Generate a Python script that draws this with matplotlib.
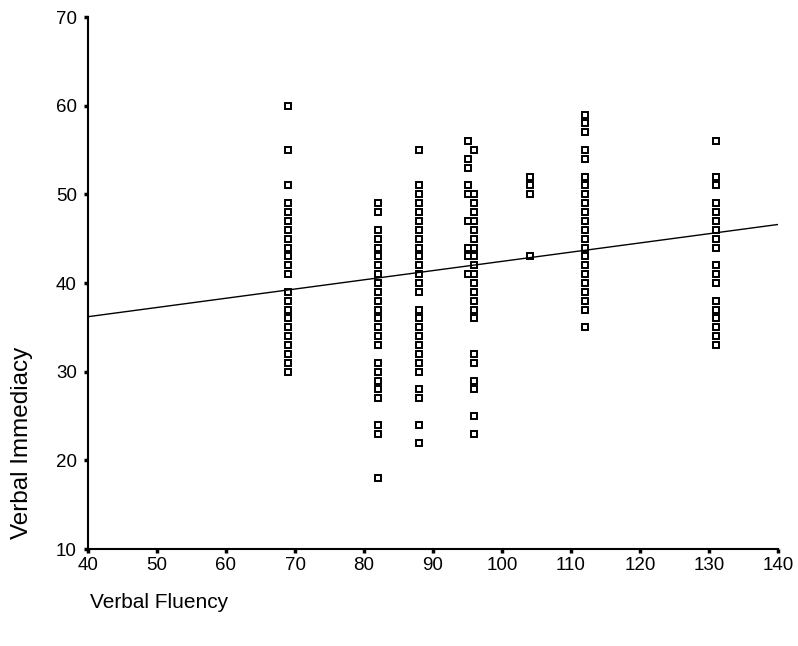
import numpy as np
import matplotlib
matplotlib.use("Agg")
import matplotlib.pyplot as plt

plt.rcParams['font.family'] = ['Liberation Sans', 'DejaVu Sans']

# Verbal Fluency groups and the Verbal Immediacy scores
fluency_levels = [69, 82, 88, 95, 96, 104, 112, 131]

immediacy_69 = [60, 55, 51, 49, 48, 47, 46, 45, 44, 43, 42, 41,
                39, 38, 37, 36, 35, 34, 33, 32, 31, 30]
immediacy_82 = [49, 48, 46, 45, 44, 43, 42, 41, 40, 39, 38, 37, 36, 35, 34, 33,
                31, 30, 29, 28, 27, 24, 23, 18]
immediacy_88 = [55, 51, 50, 49, 48, 47, 46, 45, 44, 43, 42, 41, 40, 39,
                37, 36, 35, 34, 33, 32, 31, 30, 28, 27, 24, 22]
immediacy_95 = [56, 54, 53, 51, 50, 47, 44, 43, 41]
immediacy_96 = [55, 50, 49, 48, 47, 46, 45, 44, 43, 42, 41, 40, 39, 38, 37, 36,
                32, 31, 29, 28, 25, 23]
immediacy_104 = [52, 51, 50, 43]
immediacy_112 = [59, 58, 57, 55, 54, 52, 51, 50, 49, 48, 47, 46, 45, 44, 43, 42,
                 41, 40, 39, 38, 37, 35]
immediacy_131 = [56, 52, 51, 49, 48, 47, 46, 45, 44, 42, 41, 40,
                 38, 37, 36, 35, 34, 33]

groups = [immediacy_69, immediacy_82, immediacy_88, immediacy_95,
          immediacy_96, immediacy_104, immediacy_112, immediacy_131]

# fit line end points
fit_x = [40, 140]
fit_y = [36.2, 46.6]

x_ticks = [40, 50, 60, 70, 80, 90, 100, 110, 120, 130, 140]
y_ticks = [10, 20, 30, 40, 50, 60, 70]

fig = plt.figure(figsize=(7.98, 6.46), dpi=100)
ax = fig.add_axes([88 / 798, 1 - 549 / 646, 690 / 798, 532 / 646])

for xv, ys in zip(fluency_levels, groups):
    ax.plot([xv] * len(ys), ys, linestyle='none', marker='s', markersize=5.0,
            markerfacecolor='white', markeredgecolor='black', markeredgewidth=1.4)

ax.plot(fit_x, fit_y, color='black', linewidth=1.0)

ax.set_xlim(40, 140)
ax.set_ylim(10, 70)
ax.set_xticks(x_ticks)
ax.set_yticks(y_ticks)

for side in ['top', 'right']:
    ax.spines[side].set_visible(False)
for side in ['left', 'bottom']:
    ax.spines[side].set_linewidth(1.5)

ax.tick_params(axis='both', direction='out', length=3, width=2.5, labelsize=13.5)
ax.tick_params(axis='y', pad=5)
ax.tick_params(axis='x', pad=3)

fig.text(22 / 798, 1 - 443 / 646, 'Verbal Immediacy', rotation=90,
         ha='center', va='center', fontsize=17.5)
fig.text(90 / 798, 1 - 603 / 646, 'Verbal Fluency', ha='left', va='center', fontsize=15)

fig.savefig("out.png", dpi=100)
